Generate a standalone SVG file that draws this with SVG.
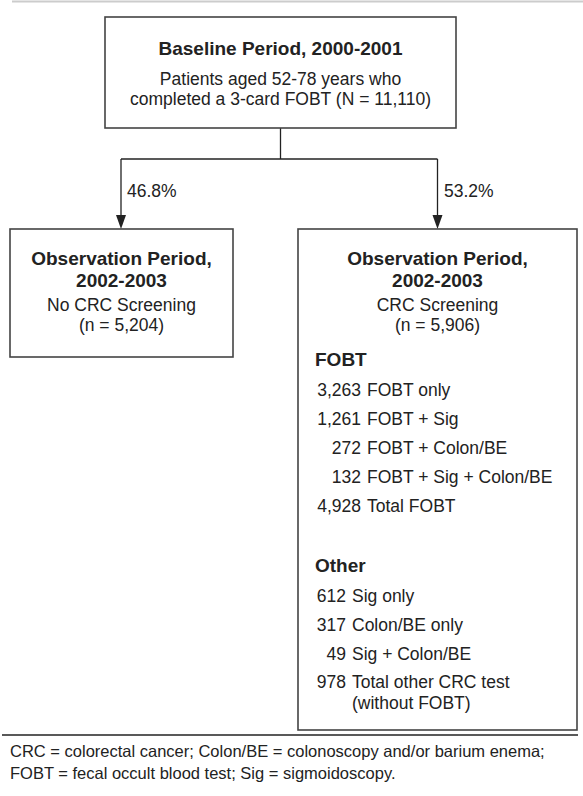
<svg xmlns="http://www.w3.org/2000/svg" width="583" height="796" viewBox="0 0 583 796">
<style>
text{font-family:"Liberation Sans",Arial,sans-serif;fill:#222;}
.b{font-weight:bold;font-size:19px;}
.r{font-size:17.5px;}
.c{text-anchor:middle;}
.e{text-anchor:end;}
.f{font-size:16.5px;}
.box{fill:#fff;stroke:#444;stroke-width:1.6;}
.ln{fill:none;stroke:#222;stroke-width:1.3;}
</style>
<rect width="583" height="796" fill="#fff"/>
<line x1="12" y1="1.5" x2="583" y2="1.5" stroke="#ccc" stroke-width="2"/>

<g id="connectors">
<line class="ln" x1="280.5" y1="128" x2="280.5" y2="159"/>
<line class="ln" x1="121" y1="159" x2="437.5" y2="159"/>
<path class="ln" d="M121,159 V215"/>
<path d="M116,215 L126,215 L121,229 Z" fill="#222"/>
<path class="ln" d="M437.5,159 V215"/>
<path d="M432.5,215 L442.5,215 L437.5,229 Z" fill="#222"/>
<text class="r" x="127" y="197">46.8%</text>
<text class="r" x="444" y="197">53.2%</text>
</g>

<g id="baseline">
<rect class="box" x="105" y="17" width="351" height="111"/>
<text class="b c" x="280.5" y="55">Baseline Period, 2000-2001</text>
<text class="r c" x="280.5" y="85">Patients aged 52-78 years who</text>
<text class="r c" x="280.5" y="105">completed a 3-card FOBT (N = 11,110)</text>
</g>

<g id="no-screening">
<rect class="box" x="10" y="229" width="223" height="128"/>
<text class="b c" x="121.5" y="265">Observation Period,</text>
<text class="b c" x="121.5" y="287">2002-2003</text>
<text class="r c" x="121.5" y="311">No CRC Screening</text>
<text class="r c" x="121.5" y="331">(n = 5,204)</text>
</g>

<g id="screening">
<rect class="box" x="298" y="229" width="279" height="501"/>
<text class="b c" x="437.5" y="265">Observation Period,</text>
<text class="b c" x="437.5" y="287">2002-2003</text>
<text class="r c" x="437.5" y="311">CRC Screening</text>
<text class="r c" x="437.5" y="331">(n = 5,906)</text>
<text class="b" x="315" y="366">FOBT</text>
<text class="r e" x="361" y="396">3,263</text><text class="r" x="367" y="396">FOBT only</text>
<text class="r e" x="361" y="425">1,261</text><text class="r" x="367" y="425">FOBT + Sig</text>
<text class="r e" x="361" y="454">272</text><text class="r" x="367" y="454">FOBT + Colon/BE</text>
<text class="r e" x="361" y="483">132</text><text class="r" x="367" y="483">FOBT + Sig + Colon/BE</text>
<text class="r e" x="361" y="512">4,928</text><text class="r" x="367" y="512">Total FOBT</text>
<text class="b" x="315" y="572">Other</text>
<text class="r e" x="346" y="602">612</text><text class="r" x="352" y="602">Sig only</text>
<text class="r e" x="346" y="631">317</text><text class="r" x="352" y="631">Colon/BE only</text>
<text class="r e" x="346" y="660">49</text><text class="r" x="352" y="660">Sig + Colon/BE</text>
<text class="r e" x="346" y="688">978</text><text class="r" x="352" y="688">Total other CRC test</text>
<text class="r" x="352" y="709">(without FOBT)</text>
</g>

<g id="footer">
<line x1="2" y1="735" x2="578" y2="735" stroke="#222" stroke-width="1.4"/>
<text class="f" x="10" y="757">CRC = colorectal cancer; Colon/BE = colonoscopy and/or barium enema;</text>
<text class="f" x="10" y="779">FOBT = fecal occult blood test; Sig = sigmoidoscopy.</text>
</g>
</svg>
